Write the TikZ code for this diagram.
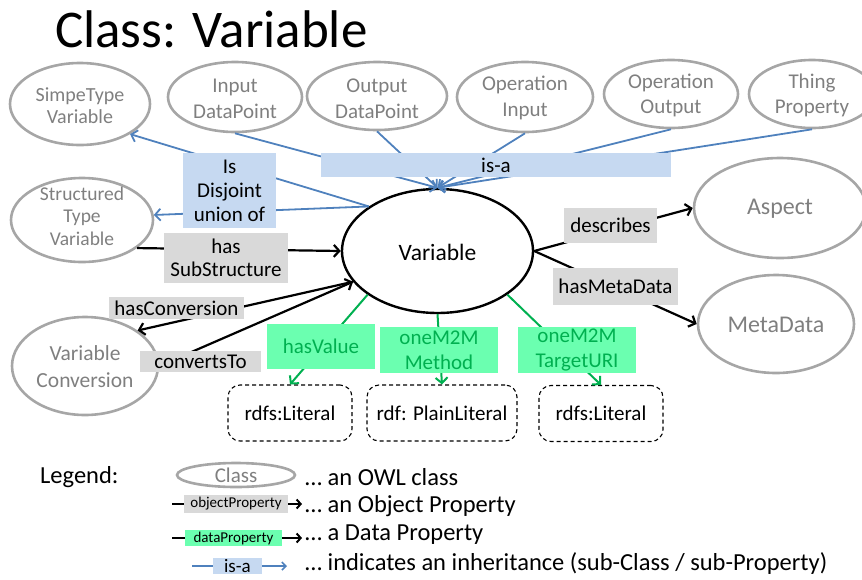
\documentclass[tikz,border=0pt]{standalone}
\usepackage{fontspec}
\setmainfont{Carlito}
\usetikzlibrary{shapes.geometric,arrows.meta}
\definecolor{clsgray}{HTML}{A6A6A6}
\definecolor{txtgray}{HTML}{7F7F7F}
\definecolor{isablue}{HTML}{4F81BD}
\definecolor{isafill}{HTML}{C6D9F1}
\definecolor{propgray}{HTML}{D9D9D9}
\definecolor{mint}{HTML}{6BFFB0}
\definecolor{datgreen}{HTML}{00B050}
\newcommand{\myfs}[2]{\fontsize{#1}{#2}\selectfont}
\begin{document}
\begin{tikzpicture}[x=1pt,y=-1pt,
  cls/.style={ellipse, draw=clsgray, line width=2.6pt, inner sep=0pt},
  varcls/.style={ellipse, draw=black, line width=2.4pt, inner sep=0pt},
  clstxt/.style={text=txtgray, align=center, inner sep=0pt},
  isa/.style={draw=isablue, line width=1.8pt, -{Straight Barb[length=5.5pt,width=12pt]}},
  obj/.style={draw=black, line width=2.2pt, -{Straight Barb[length=5.5pt,width=12pt]}},
  dat/.style={draw=datgreen, line width=2pt, -{Straight Barb[length=5.5pt,width=12pt]}},
  isabox/.style={fill=isafill, inner sep=0pt, align=center, font=\myfs{21}{24}},
  objbox/.style={fill=propgray, inner sep=0pt, align=center, font=\myfs{21}{23}},
  datbox/.style={fill=mint, text=datgreen, inner sep=0pt, align=center, font=\myfs{21}{25}},
  litbox/.style={draw=black, dash pattern=on 4pt off 3pt, line width=1.1pt, rounded corners=12pt, inner sep=0pt, minimum height=56pt, font=\myfs{21}{25}},
  legtxt/.style={anchor=west, inner sep=0pt, font=\myfs{24.5}{28}}
]
\useasboundingbox (0,0) rectangle (862,579);
\clip (0,0) rectangle (862,579);

% title
\node[anchor=base west, inner sep=0pt, font=\myfs{53}{60}] (title) at (55,47) {Class: Variable};

% classes
\node[cls, minimum width=140pt, minimum height=82pt] (simple) at (80,104) {};
\node[clstxt, font=\myfs{20}{22}] (simplet) at (80,106) {SimpeType\\Variable};
\node[cls, minimum width=134pt, minimum height=70pt] (inp) at (235,97) {};
\node[clstxt, font=\myfs{21}{26}] (inpt) at (235,99) {Input\\DataPoint};
\node[cls, minimum width=140pt, minimum height=68pt] (outp) at (377,96) {};
\node[clstxt, font=\myfs{21}{26}] (outpt) at (377,99) {Output\\DataPoint};
\node[cls, minimum width=136pt, minimum height=70pt] (opin) at (525,97) {};
\node[clstxt, font=\myfs{21}{26}] (opint) at (525,98) {Operation\\Input};
\node[cls, minimum width=134pt, minimum height=68pt] (opout) at (671,94) {};
\node[clstxt, font=\myfs{21}{25}] (opoutt) at (671,95) {Operation\\Output};
\node[cls, minimum width=126pt, minimum height=68pt] (thing) at (812,94) {};
\node[clstxt, font=\myfs{21}{25}] (thingt) at (812,95) {Thing\\Property};
\node[cls, minimum width=142pt, minimum height=84pt] (struct) at (82,220) {};
\node[clstxt, font=\myfs{19.5}{22.5}] (structt) at (82,216) {Structured\\Type\\Variable};
\node[cls, minimum width=146pt, minimum height=98pt] (vconv) at (85,366) {};
\node[clstxt, font=\myfs{21.5}{27}] (vconvt) at (85,367) {Variable\\Conversion};
\node[cls, minimum width=172pt, minimum height=100pt] (aspect) at (780,208) {};
\node[clstxt, font=\myfs{24}{28}] (aspectt) at (780,209) {Aspect};
\node[cls, minimum width=156pt, minimum height=98pt] (meta) at (776,324) {};
\node[clstxt, font=\myfs{24}{28}] (metat) at (776,325) {MetaData};
\node[varcls, minimum width=191pt, minimum height=124pt] (var) at (437.5,251) {};
\node[inner sep=0pt, font=\myfs{23.5}{28}] (vart) at (437.5,252) {Variable};

% literals
\node[litbox, minimum width=124pt] (lit1) at (290,413) {rdfs:Literal};
\node[litbox, minimum width=150pt] (lit2) at (442,413) {rdf: PlainLiteral};
\node[litbox, minimum width=124pt] (lit3) at (601,413.5) {rdfs:Literal};

% is-a connectors
\draw[isa] (inp.south) -- (var.north);
\draw[isa] (outp.south) -- (var.north);
\draw[isa] (opin.south) -- (var.north);
\draw[isa] (opout.south) -- (var.north);
\draw[isa] (thing.south) -- (var.north);
\draw[isa] (var.147) -- (simple.-31);
\draw[isa] (var.147) -- (struct.4);

% object properties
\draw[obj] (struct.-27) -- (var.west);
\draw[obj] (var.200) -- (vconv.34);
\draw[obj] (vconv.east) -- (var.200);
\draw[obj] (var.east) -- (aspect.west);
\draw[obj] (var.east) -- (meta.west);

% data properties
\draw[dat] (var.212) -- (lit1.north);
\draw[dat] (var.south) -- (lit2.north);
\draw[dat] (var.-32) -- (lit3.north);

% labels
\node[isabox, minimum width=350pt, minimum height=24pt] (isal) at (496,165) {is-a};
\node[isabox, minimum width=93pt, minimum height=75pt] (disj) at (229.5,190.5) {Is\\Disjoint\\union of};
\node[objbox, minimum width=124pt, minimum height=50pt] (hassub) at (226,258) {has\\SubStructure};
\node[objbox, minimum width=135pt, minimum height=22pt] (hasconv) at (176.5,308) {hasConversion};
\node[objbox, minimum width=121pt, minimum height=21pt] (convto) at (200.5,361.5) {convertsTo};
\node[objbox, minimum width=93pt, minimum height=35pt] (descr) at (610.5,225.5) {describes};
\node[objbox, minimum width=125pt, minimum height=37pt] (hasmeta) at (615.5,286.5) {hasMetaData};
\node[datbox, minimum width=108pt, minimum height=45pt] (hasval) at (321,346.5) {hasValue};
\node[datbox, minimum width=118pt, minimum height=46pt] (meth) at (439,350) {oneM2M\\Method};
\node[datbox, minimum width=118pt, minimum height=46pt] (turi) at (577,350) {oneM2M\\TargetURI};

% legend
\node[legtxt] (legend) at (40,477) {Legend:};
\node[cls, minimum width=118pt, minimum height=24pt] (legcls) at (236,475) {};
\node[clstxt, font=\myfs{21}{24}] (legclst) at (236,475) {Class};
\node[legtxt] (legclsd) at (305,477) {\dots{} an OWL class};

\coordinate (lo1) at (172,504);
\coordinate (lo2) at (302,504);
\draw[draw=black, line width=2pt, -{Straight Barb[length=4pt,width=9pt]}] (lo1) -- (lo2);
\node[fill=propgray, inner sep=0pt, minimum width=104pt, minimum height=18pt, font=\myfs{15}{16}] (legobj) at (236,504) {objectProperty};
\node[legtxt] (legobjd) at (305,506) {\dots{} an Object Property};

\coordinate (ld1) at (172,538);
\coordinate (ld2) at (302,538);
\draw[draw=black, line width=2pt, -{Straight Barb[length=4pt,width=9pt]}] (ld1) -- (ld2);
\node[fill=mint, inner sep=0pt, minimum width=97pt, minimum height=16pt, font=\myfs{15}{16}] (legdat) at (233.5,538) {dataProperty};
\node[legtxt] (legdatd) at (305,535) {\dots{} a Data Property};

\coordinate (li1) at (192,566);
\coordinate (li2) at (287,566);
\draw[draw=isablue, line width=1.6pt, -{Straight Barb[length=4pt,width=8pt]}] (li1) -- (li2);
\node[fill=isafill, inner sep=0pt, minimum width=49pt, minimum height=16pt, font=\myfs{19}{20}] (legisa) at (237.5,566) {is-a};
\node[legtxt] (legisad) at (305,564) {\dots{} indicates an inheritance (sub-Class / sub-Property)};
\end{tikzpicture}
\end{document}
